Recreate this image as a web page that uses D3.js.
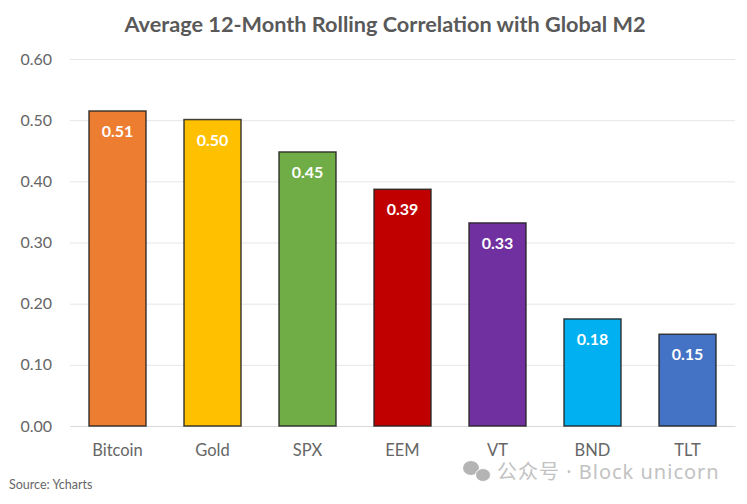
<!DOCTYPE html>
<html>
<head>
<meta charset="utf-8">
<script src="https://cdn.jsdelivr.net/npm/d3@7"></script>
<style>
  html, body { margin: 0; padding: 0; background: #fff; }
  svg { display: block; }
  text { font-family: Lato, "Noto Sans", sans-serif; }
</style>
</head>
<body>
<svg></svg>
<script>
let categories = ['Bitcoin', 'Gold', 'SPX', 'EEM', 'VT', 'BND', 'TLT']
let values = [0.515, 0.501, 0.448, 0.387, 0.332, 0.175, 0.15]
let valueLabels = ['0.51', '0.50', '0.45', '0.39', '0.33', '0.18', '0.15']
let barColors = ['#ed7d31', '#ffc000', '#70ad47', '#c00000', '#7030a0', '#00b0f0', '#4472c4']
let yTicks = [0, 0.1, 0.2, 0.3, 0.4, 0.5, 0.6]

let width = 747
let height = 504

let svg = d3.select('svg').attr('width', width).attr('height', height)

let xScale = d3.scaleBand().domain(categories).range([70, 735]).paddingInner(0.4).paddingOuter(0.2)
let yScale = d3.scaleLinear().domain([0, 0.6]).range([426, 59])

// gridlines come from the y axis ticks
let yAxis = d3.axisLeft(yScale).tickValues(yTicks).tickFormat(d3.format('.2f')).tickSize(-665).tickPadding(18)
let yG = svg.append('g').attr('transform', 'translate(70,0)').call(yAxis)
yG.select('.domain').remove()
yG.selectAll('line').attr('stroke', '#e6e6e6').attr('stroke-width', 1)
yG.selectAll('text').attr('fill', '#666').style('font-size', '16px')

let xAxis = d3.axisBottom(xScale).tickSize(0).tickPadding(18)
let xG = svg.append('g').attr('transform', 'translate(0,426)').call(xAxis)
xG.select('.domain').attr('stroke', '#d9d9d9')
xG.selectAll('text').attr('fill', '#666').style('font-size', '16.5px')

// bars
svg.selectAll('.bar')
  .data(categories)
  .enter()
  .append('rect')
  .attr('class', 'bar')
  .attr('x', (d) => xScale(d))
  .attr('y', (d, i) => yScale(values[i]))
  .attr('width', xScale.bandwidth())
  .attr('height', (d, i) => yScale(0) - yScale(values[i]))
  .attr('fill', (d, i) => barColors[i])
  .attr('stroke', '#222')
  .attr('stroke-opacity', 0.85)
  .attr('stroke-width', 1.5)

// value labels inside the bars
svg.selectAll('.value')
  .data(categories)
  .enter()
  .append('text')
  .attr('class', 'value')
  .attr('x', (d) => xScale(d) + xScale.bandwidth() / 2)
  .attr('y', (d, i) => yScale(values[i]) + 26)
  .attr('text-anchor', 'middle')
  .attr('fill', '#fff')
  .style('font-size', '16px')
  .style('font-weight', 700)
  .text((d, i) => valueLabels[i])

svg.append('text')
  .attr('x', 385)
  .attr('y', 32)
  .attr('text-anchor', 'middle')
  .attr('fill', '#595959')
  .style('font-size', '21.7px')
  .style('font-weight', 700)
  .text('Average 12-Month Rolling Correlation with Global M2')

svg.append('text')
  .attr('x', 9)
  .attr('y', 489)
  .attr('fill', '#666')
  .style('font-size', '12.5px')
  .text('Source: Ycharts')

// watermark
let mark = svg.append('g').attr('fill', '#b4b4b4')
mark.append('ellipse').attr('cx', 471).attr('cy', 468).attr('rx', 8).attr('ry', 7)
mark.append('ellipse').attr('cx', 483).attr('cy', 475).attr('rx', 7.5).attr('ry', 6.5).attr('stroke', '#fff')

svg.append('text')
  .attr('x', 497)
  .attr('y', 479)
  .attr('fill', '#c2c2c2')
  .style('font-family', '"Noto Sans", "Noto Sans CJK SC", sans-serif')
  .style('font-size', '20px')
  .style('letter-spacing', '1px')
  .text('公众号 · Block unicorn')
</script>
</body>
</html>
